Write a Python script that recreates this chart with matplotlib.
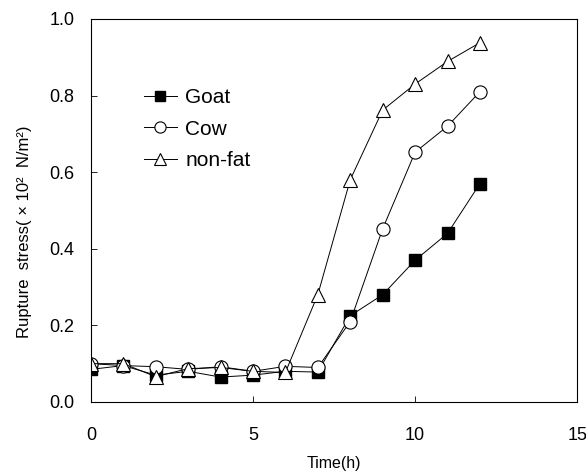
import matplotlib
matplotlib.use('Agg')
import matplotlib.pyplot as plt

plt.rcParams['font.family'] = ['Liberation Sans', 'DejaVu Sans']

hours = [0, 1, 2, 3, 4, 5, 6, 7, 8, 9, 10, 11, 12]
goat = [0.085, 0.095, 0.07, 0.08, 0.065, 0.07, 0.08, 0.078, 0.225, 0.28, 0.37, 0.44, 0.57]
cow = [0.10, 0.095, 0.092, 0.085, 0.092, 0.08, 0.093, 0.09, 0.21, 0.452, 0.652, 0.72, 0.81]
nonfat = [0.10, 0.10, 0.066, 0.087, 0.09, 0.08, 0.077, 0.28, 0.58, 0.762, 0.83, 0.889, 0.938]

fig = plt.figure(figsize=(5.86, 4.74), dpi=100)
ax = fig.add_axes([0.155, 0.152, 0.83, 0.808])

ax.plot(hours, goat, color='black', lw=0.7, marker='s', ms=9, mfc='black', mec='black', label='Goat')
ax.plot(hours, cow, color='black', lw=0.7, marker='o', ms=9.5, mfc='white', mec='black', mew=0.8, label='Cow')
ax.plot(hours, nonfat, color='black', lw=0.7, marker='^', ms=10, mfc='white', mec='black', mew=0.8, label='non-fat')

ax.set_xlim(0, 15)
ax.set_ylim(0, 1.0)
ax.set_xticks([0, 5, 10, 15])
ax.set_yticks([0.0, 0.2, 0.4, 0.6, 0.8, 1.0])
ax.set_yticklabels(['0.0', '0.2', '0.4', '0.6', '0.8', '1.0'])
ax.tick_params(direction='in', length=4, labelsize=13, width=0.6)
ax.tick_params(axis='x', pad=18)
ax.tick_params(axis='y', pad=12)
for s in ax.spines.values():
    s.set_linewidth(0.8)

ax.set_xlabel('Time(h)', fontsize=11.5, labelpad=9)
ax.set_ylabel('Rupture  stress( × 10²  N/m²)', fontsize=12)
ax.yaxis.set_label_coords(-0.12, 0.445)

ax.legend(loc='upper left', bbox_to_anchor=(0.07, 0.868), frameon=False, fontsize=15,
          handlelength=1.6, handletextpad=0.4, labelspacing=0.6, markerscale=0.85)

fig.savefig('out.png', dpi=100)
